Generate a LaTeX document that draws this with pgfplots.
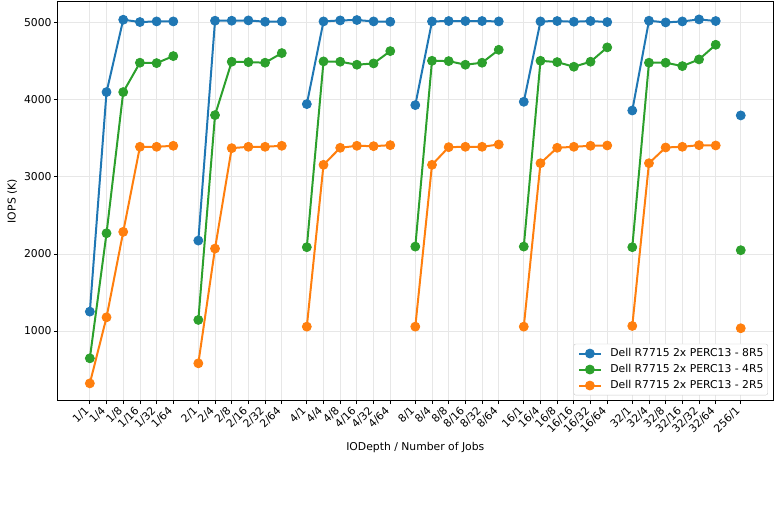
\documentclass[border=0pt]{standalone}
\usepackage{fontspec}
\setmainfont{DejaVu Sans}
\usepackage{pgfplots}
\usepackage{pgfplotstable}
\pgfplotsset{compat=1.18}
\definecolor{tabblue}{HTML}{1F77B4}
\definecolor{tabgreen}{HTML}{2CA02C}
\definecolor{taborange}{HTML}{FF7F0E}
\definecolor{gridgray}{RGB}{231,231,231}
\definecolor{legedge}{RGB}{204,204,204}

\pgfplotstableread{
x     b     g     o
0     1251  645   320
1     4100  2268  1177
2     5039  4100  2286
3     5009  4481  3390
4     5017  4476  3390
5     5017  4567  3403
5.75  nan   nan   nan
6.5   2173  1143  580
7.5   5026  3801  2069
8.5   5026  4494  3372
9.5   5030  4489  3390
10.5  5013  4481  3390
11.5  5017  4606  3403
12.25 nan   nan   nan
13    3944  2087  1056
14    5017  4498  3156
15    5030  4494  3377
16    5035  4455  3403
17    5017  4472  3398
18    5013  4632  3411
18.75 nan   nan   nan
19.5  3931  2095  1056
20.5  5017  4506  3156
21.5  5022  4502  3385
22.5  5022  4455  3390
23.5  5022  4481  3390
24.5  5017  4649  3420
25.25 nan   nan   nan
26    3974  2095  1056
27    5017  4506  3177
28    5022  4489  3377
29    5013  4429  3390
30    5022  4494  3403
31    5009  4680  3407
31.75 nan   nan   nan
32.5  3861  2087  1065
33.5  5026  4481  3177
34.5  5004  4481  3381
35.5  5017  4437  3390
36.5  5043  4524  3411
37.5  5022  4714  3407
38.25 nan   nan   nan
39    3797  2048  1035
}\datatable

\begin{document}
\begin{tikzpicture}
\begin{axis}[
  at={(0,0)}, anchor=south west,
  scale only axis,
  width=716pt, height=399pt,
  xmin=-1.95, xmax=40.95,
  ymin=95, ymax=5273,
  unbounded coords=jump,
  font=\fontsize{10.8pt}{13pt}\selectfont,
  /pgf/number format/assume math mode=true,
  /pgf/number format/1000 sep={},
  axis line style={line width=0.8pt, black},
  tick align=outside,
  tick pos=left,
  major tick length=3.5pt,
  tick style={line width=0.8pt, black},
  grid=major,
  major grid style={line width=0.8pt, gridgray},
  xtick={0,1,2,3,4,5,6.5,7.5,8.5,9.5,10.5,11.5,13,14,15,16,17,18,19.5,20.5,21.5,22.5,23.5,24.5,26,27,28,29,30,31,32.5,33.5,34.5,35.5,36.5,37.5,39},
  xticklabels={1/1,1/4,1/8,1/16,1/32,1/64,2/1,2/4,2/8,2/16,2/32,2/64,4/1,4/4,4/8,4/16,4/32,4/64,8/1,8/4,8/8,8/16,8/32,8/64,16/1,16/4,16/8,16/16,16/32,16/64,32/1,32/4,32/8,32/16,32/32,32/64,256/1},
  xticklabel style={xshift=-6pt, rotate=45, anchor=north east, inner sep=1pt},
  ytick={1000,2000,3000,4000,5000},
  yticklabel style={inner sep=2pt},
  xlabel={IODepth / Number of Jobs},
  ylabel={IOPS (K)},
  xlabel style={at={(axis description cs:0.5,-0.1165)}, anchor=center},
  ylabel style={at={(axis description cs:-0.0629,0.5)}, anchor=center},
  legend style={at={(axis description cs:1,0)}, anchor=south east,
    xshift=-5.4pt, yshift=5.4pt, draw=legedge, rounded corners=2pt,
    font=\fontsize{10.8pt}{13pt}\selectfont,
    nodes={inner sep=0pt, text height=8pt, text depth=2.5pt},
    row sep=5.5pt, column sep=8.6pt,
    inner sep=4.3pt},
  legend cell align=left,
  legend image code/.code={%
    \draw[mark repeat=2,mark phase=2,#1] plot coordinates {(0pt,0pt)(10.8pt,0pt)(21.6pt,0pt)};},
  every axis plot/.append style={line width=2pt, mark=*, mark size=4.5pt},
]
\addplot[tabblue, mark options={fill=tabblue, draw=tabblue, line width=0.8pt}] table[x=x,y=b] {\datatable};
\addlegendentry{Dell R7715 2x PERC13 - 8R5}
\addplot[tabgreen, mark options={fill=tabgreen, draw=tabgreen, line width=0.8pt}] table[x=x,y=g] {\datatable};
\addlegendentry{Dell R7715 2x PERC13 - 4R5}
\addplot[taborange, mark options={fill=taborange, draw=taborange, line width=0.8pt}] table[x=x,y=o] {\datatable};
\addlegendentry{Dell R7715 2x PERC13 - 2R5}
\end{axis}
\pgfresetboundingbox
\path[use as bounding box] (-57.3pt,-115.3pt) rectangle (722.7pt,400.7pt);
\end{tikzpicture}
\end{document}
